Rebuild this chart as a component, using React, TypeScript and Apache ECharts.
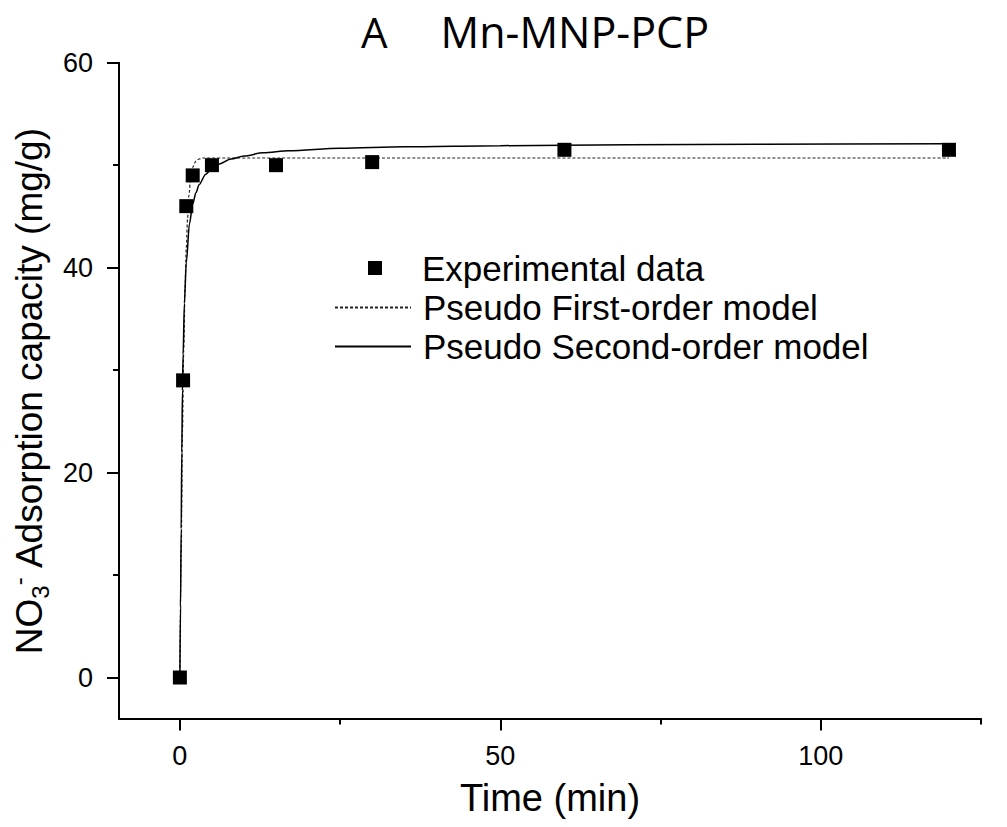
import React, { useEffect, useRef } from "react";
import * as echarts from "echarts";

const expTime = [0, 0.5, 1, 2, 5, 15, 30, 60, 120];
const expQ = [0, 29, 46, 49, 50, 50, 50.3, 51.5, 51.5];

const pfoTime = [0, 0.2, 0.4, 0.6, 0.8, 1, 1.2, 1.4, 1.7, 2, 2.5, 3, 3.5, 120];
const pfoQ = [0, 12, 24, 32, 38, 42, 44.8, 47, 48.9, 49.8, 50.4, 50.6, 50.7, 50.7];

const psoTime = [0, 0.1, 0.2, 0.3, 0.4, 0.5, 0.7, 1, 1.5, 2, 2.5, 3, 4, 5, 6, 8, 10, 13, 17, 25, 35, 50, 70, 90, 120];
const psoQ = [0, 7, 14.5, 22, 28, 31.5, 36.5, 40.5, 44.3, 46.2, 47.3, 48.1, 49.1, 49.7, 50.1, 50.6, 50.9, 51.2, 51.4, 51.65, 51.8, 51.9, 52, 52.05, 52.1];

const xMajorTicks = [0, 50, 100];
const xMinorTicks = [25, 75, 125];
const yMajorTicks = [0, 20, 40, 60];
const yMinorTicks = [10, 30, 50];

const FONT = "'Liberation Sans', Arial, sans-serif";

export default function App() {
  const ref = useRef<HTMLDivElement>(null);
  useEffect(() => {
    if (!ref.current) return;
    const chart = echarts.init(ref.current, null, { renderer: "svg" });
    const xRange = { min: -9.5, max: 125 };
    const yRange = { min: -4, max: 60 };
    chart.setOption({
      animation: false,
      backgroundColor: "#ffffff",
      title: {
        text: "{a|A}{b|Mn-MNP-PCP}",
        left: 356,
        top: 5,
        textStyle: {
          fontWeight: "normal",
          rich: {
            a: { fontFamily: "'Open Sans', sans-serif", fontSize: 42, fontWeight: "normal", color: "#000" },
            b: { fontFamily: "'Open Sans', sans-serif", fontSize: 43, fontWeight: "normal", color: "#000", padding: [0, 0, 0, 53] },
          },
        },
      },
      grid: { left: 119, right: 26, top: 62.7, bottom: 108.5, containLabel: false, outerBoundsMode: "none" },
      legend: [
        {
          data: [{ name: "Experimental data", icon: "rect" }],
          left: 368,
          top: 248,
          padding: 0,
          orient: "vertical",
          itemWidth: 14,
          itemHeight: 14,
          textStyle: { fontFamily: FONT, fontSize: 35, color: "#000", lineHeight: 40, padding: [0, 0, 0, 35] },
        },
        {
          data: ["Pseudo First-order model", "Pseudo Second-order model"],
          left: 334,
          top: 288,
          padding: 0,
          orient: "vertical",
          itemWidth: 76,
          itemHeight: 14,
          itemGap: 0,
          itemStyle: { opacity: 0 },
          textStyle: { fontFamily: FONT, fontSize: 35, color: "#000", lineHeight: 39, padding: [0, 0, 0, 7] },
        },
      ],
      xAxis: [
        {
          type: "value",
          ...xRange,
          name: "Time (min)",
          nameLocation: "middle",
          nameGap: 60,
          nameTextStyle: { fontFamily: FONT, fontSize: 38, color: "#000" },
          axisLine: { show: true, onZero: false, lineStyle: { color: "#000", width: 2 } },
          axisTick: { show: true, customValues: xMajorTicks, length: 12, lineStyle: { color: "#000", width: 2 } },
          axisLabel: { customValues: xMajorTicks, fontFamily: FONT, fontSize: 27, color: "#000", margin: 24 },
          splitLine: { show: false },
        },
        {
          type: "value",
          ...xRange,
          position: "bottom",
          axisLine: { show: false, onZero: false },
          axisTick: { show: true, customValues: xMinorTicks, length: 6, lineStyle: { color: "#000", width: 2 } },
          axisLabel: { show: false },
          splitLine: { show: false },
        },
      ],
      yAxis: [
        {
          type: "value",
          ...yRange,
          name: "NO{sub|3}{sup|-} Adsorption capacity (mg/g)",
          nameLocation: "middle",
          nameGap: 67,
          nameTextStyle: {
            fontFamily: FONT,
            fontSize: 37,
            color: "#000",
            lineHeight: 46,
            rich: {
              sub: { fontFamily: FONT, fontSize: 24, color: "#000", verticalAlign: "bottom", lineHeight: 22 },
              sup: { fontFamily: FONT, fontSize: 24, color: "#000", verticalAlign: "top", lineHeight: 22 },
            },
          },
          axisLine: { show: true, onZero: false, lineStyle: { color: "#000", width: 2 } },
          axisTick: { show: true, customValues: yMajorTicks, length: 12, lineStyle: { color: "#000", width: 2 } },
          axisLabel: { customValues: yMajorTicks, fontFamily: FONT, fontSize: 27, color: "#000", margin: 26 },
          splitLine: { show: false },
        },
        {
          type: "value",
          ...yRange,
          position: "left",
          axisLine: { show: false, onZero: false },
          axisTick: { show: true, customValues: yMinorTicks, length: 6, lineStyle: { color: "#000", width: 2 } },
          axisLabel: { show: false },
          splitLine: { show: false },
        },
      ],
      series: [
        {
          name: "Pseudo First-order model",
          type: "line",
          data: pfoTime.map((t, i) => [t, pfoQ[i]]),
          showSymbol: false,
          symbol: "none",
          smooth: 0.3,
          smoothMonotone: "x",
          lineStyle: { color: "#222", width: 1.2, type: [3, 2] },
          itemStyle: { color: "#222" },
          z: 2,
        },
        {
          name: "Pseudo Second-order model",
          type: "line",
          data: psoTime.map((t, i) => [t, psoQ[i]]),
          showSymbol: false,
          symbol: "none",
          smooth: 0.3,
          smoothMonotone: "x",
          lineStyle: { color: "#000", width: 1.5, type: "solid" },
          itemStyle: { color: "#000" },
          z: 3,
        },
        {
          name: "Experimental data",
          type: "scatter",
          data: expTime.map((t, i) => [t, expQ[i]]),
          symbol: "rect",
          symbolSize: 14,
          itemStyle: { color: "#000", opacity: 1 },
          z: 4,
        },
      ],
    });
    return () => chart.dispose();
  }, []);
  return <div ref={ref} style={{ width: 1007, height: 827, position: "absolute", left: 0, top: 0 }} />;
}
